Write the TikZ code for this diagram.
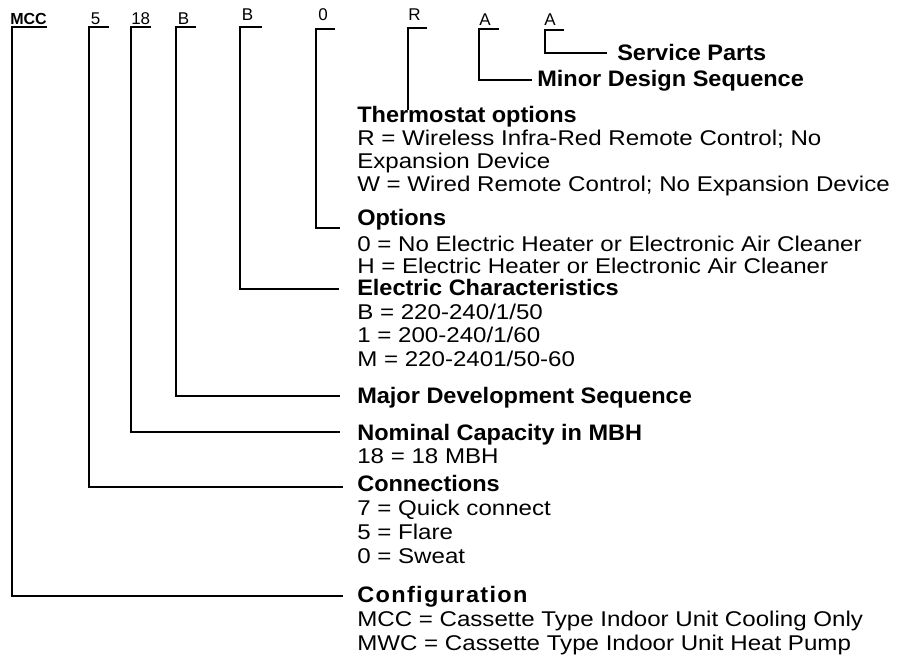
\documentclass[tikz,border=0pt]{standalone}
\usepackage{fontspec}
\setmainfont{Liberation Sans}
\newfontfamily\bodyf[FakeStretch=1.13]{Liberation Sans}
\newfontfamily\headf[FakeStretch=1.05]{Liberation Sans}
\begin{document}
\begin{tikzpicture}[x=0.75pt,y=-0.75pt,
  br/.style={line width=1.5pt},
  hd/.style={anchor=base west,inner sep=0pt,font=\headf\bfseries\fontsize{16.8}{20}\selectfont},
  bd/.style={anchor=base west,inner sep=0pt,font=\bodyf\fontsize{16}{19}\selectfont},
  tl/.style={anchor=base west,inner sep=0pt,font=\fontsize{12.75}{15}\selectfont},
  tlb/.style={anchor=base west,inner sep=0pt,font=\bfseries\fontsize{12}{14}\selectfont}]
\useasboundingbox (0,0) rectangle (906,657);

% top code letters
\node[tlb] (kMCC) at (10,24) {MCC};
\node[tl] (k5) at (90.7,24) {5};
\node[tl] (k18) at (131,24) {18};
\node[tl] (kB1) at (177.7,24) {B};
\node[tl] (kB2) at (241.7,20.7) {B};
\node[tl] (k0) at (318,20.7) {0};
\node[tl] (kR) at (408,20) {R};
\node[tl] (kA1) at (479,25) {A};
\node[tl] (kA2) at (544,25) {A};

% headings and descriptions
\node[hd] (hSP) at (617,60) {Service Parts};
\node[hd] (hMD) at (537,86) {Minor Design Sequence};
\node[hd] (hTO) at (357,122.7) {Thermostat options};
\node[bd] (t1) at (357,145) {R = Wireless Infra-Red Remote Control; No};
\node[bd] (t2) at (357,168.3) {Expansion Device};
\node[bd] (t3) at (357,191.7) {W = Wired Remote Control; No Expansion Device};
\node[hd] (hOP) at (357,225) {Options};
\node[bd] (o1) at (357,251.7) {0 = No Electric Heater or Electronic Air Cleaner};
\node[bd] (o2) at (357,273.3) {H = Electric Heater or Electronic Air Cleaner};
\node[hd] (hEC) at (357,295) {Electric Characteristics};
\node[bd] (e1) at (357,319) {B = 220-240/1/50};
\node[bd] (e2) at (357,342.7) {1 = 200-240/1/60};
\node[bd] (e3) at (357,366.7) {M = 220-2401/50-60};
\node[hd] (hMJ) at (357,403) {Major Development Sequence};
\node[hd] (hNC) at (357,440) {Nominal Capacity in MBH};
\node[bd] (n1) at (357,463) {18 = 18 MBH};
\node[hd] (hCN) at (357,491.7) {Connections};
\node[bd] (c1) at (357,515) {7 = Quick connect};
\node[bd] (c2) at (357,539) {5 = Flare};
\node[bd] (c3) at (357,563.3) {0 = Sweat};
\node[hd] (hCF) at (357,602.3) {\addfontfeature{LetterSpace=6}Configuration};
\node[bd] (f1) at (357,626.7) {MCC = Cassette Type Indoor Unit Cooling Only};
\node[bd] (f2) at (357,650) {MWC = Cassette Type Indoor Unit Heat Pump};

% bracket coordinates
\coordinate (aMCC) at (47,27);   \coordinate (bMCC) at (12,27);   \coordinate (eMCC) at (343,596);
\coordinate (a5) at (109,27);    \coordinate (b5) at (89,27);     \coordinate (e5) at (343,487);
\coordinate (a18) at (151,27);   \coordinate (b18) at (131,27);   \coordinate (e18) at (340,432);
\coordinate (aB1) at (196,27);   \coordinate (bB1) at (176,27);   \coordinate (eB1) at (340,396);
\coordinate (aB2) at (262,27);   \coordinate (bB2) at (240,27);   \coordinate (eB2) at (339,289);
\coordinate (a0) at (335,29);    \coordinate (b0) at (316,29);    \coordinate (e0) at (340,228);
\coordinate (aR) at (427,28);    \coordinate (bR) at (408,28);    \coordinate (eR) at (408,110);
\coordinate (aA1) at (499,29);   \coordinate (bA1) at (479,29);   \coordinate (eA1) at (532,80);
\coordinate (aA2) at (564,30);   \coordinate (bA2) at (545,30);   \coordinate (eA2) at (607,53.3);

\draw[br] (aMCC) -- (bMCC) |- (eMCC);
\draw[br] (a5) -- (b5) |- (e5);
\draw[br] (a18) -- (b18) |- (e18);
\draw[br] (aB1) -- (bB1) |- (eB1);
\draw[br] (aB2) -- (bB2) |- (eB2);
\draw[br] (a0) -- (b0) |- (e0);
\draw[br] (aR) -- (bR) -- (eR);
\draw[br] (aA1) -- (bA1) |- (eA1);
\draw[br] (aA2) -- (bA2) |- (eA2);
\end{tikzpicture}
\end{document}
